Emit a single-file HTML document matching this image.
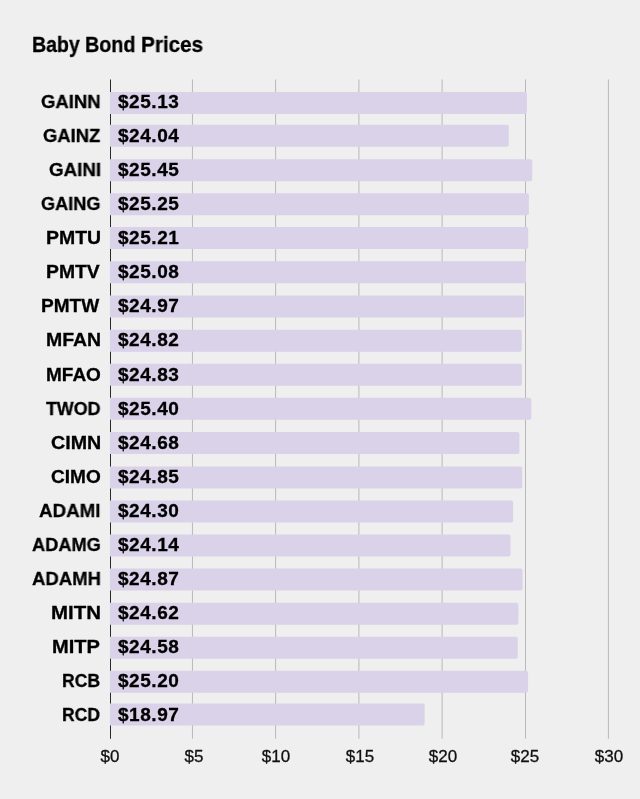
<!DOCTYPE html>
<html><head><meta charset="utf-8"><style>
html,body{margin:0;padding:0;}
body{width:640px;height:799px;overflow:hidden;background:#efefef;position:relative;font-family:"Liberation Sans",sans-serif;color:#000000;}
.t{position:absolute;white-space:nowrap;line-height:1;will-change:transform;}
.b{-webkit-text-stroke:0.3px #000;}
.title{font-weight:700;font-size:21.2px;top:34.05px;transform-origin:0 0;}
.lb{font-weight:700;font-size:19.0px;transform-origin:0 0;}
.vl{font-weight:700;font-size:19.0px;left:117.9px;letter-spacing:0.54px;}
.ax{font-weight:400;font-size:17px;width:60px;text-align:center;color:#111;-webkit-text-stroke:0.3px #111;}
svg{position:absolute;left:0;top:0;}
</style></head><body>
<svg width="640" height="799" viewBox="0 0 640 799">
<rect x="191.95" y="79.5" width="1" height="659.25" fill="#b8b8b8"/>
<rect x="275.10" y="79.5" width="1" height="659.25" fill="#b8b8b8"/>
<rect x="358.40" y="79.5" width="1" height="659.25" fill="#b8b8b8"/>
<rect x="441.60" y="79.5" width="1" height="659.25" fill="#b8b8b8"/>
<rect x="525.00" y="79.5" width="1" height="659.25" fill="#b8b8b8"/>
<rect x="607.90" y="79.5" width="1" height="659.25" fill="#b8b8b8"/>
<rect x="110" y="79.5" width="1" height="659.25" fill="#2a2a2a"/>
<path d="M109.9,91.90H524.90Q526.90,91.90 526.90,93.90V111.90Q526.90,113.90 524.90,113.90H109.9Z" fill="#d9d2e9"/>
<path d="M109.9,124.70H506.80Q508.80,124.70 508.80,126.70V144.70Q508.80,146.70 506.80,146.70H109.9Z" fill="#d9d2e9"/>
<path d="M109.9,159.20H530.21Q532.21,159.20 532.21,161.20V179.20Q532.21,181.20 530.21,181.20H109.9Z" fill="#d9d2e9"/>
<path d="M109.9,193.30H526.89Q528.89,193.30 528.89,195.30V213.30Q528.89,215.30 526.89,215.30H109.9Z" fill="#d9d2e9"/>
<path d="M109.9,227.10H526.23Q528.23,227.10 528.23,229.10V247.10Q528.23,249.10 526.23,249.10H109.9Z" fill="#d9d2e9"/>
<path d="M109.9,261.30H524.07Q526.07,261.30 526.07,263.30V281.30Q526.07,283.30 524.07,283.30H109.9Z" fill="#d9d2e9"/>
<path d="M109.9,295.50H522.24Q524.24,295.50 524.24,297.50V315.50Q524.24,317.50 522.24,317.50H109.9Z" fill="#d9d2e9"/>
<path d="M109.9,329.80H519.75Q521.75,329.80 521.75,331.80V349.80Q521.75,351.80 519.75,351.80H109.9Z" fill="#d9d2e9"/>
<path d="M109.9,363.70H519.92Q521.92,363.70 521.92,365.70V383.70Q521.92,385.70 519.92,385.70H109.9Z" fill="#d9d2e9"/>
<path d="M109.9,397.80H529.38Q531.38,397.80 531.38,399.80V417.80Q531.38,419.80 529.38,419.80H109.9Z" fill="#d9d2e9"/>
<path d="M109.9,432.10H517.43Q519.43,432.10 519.43,434.10V452.10Q519.43,454.10 517.43,454.10H109.9Z" fill="#d9d2e9"/>
<path d="M109.9,466.40H520.25Q522.25,466.40 522.25,468.40V486.40Q522.25,488.40 520.25,488.40H109.9Z" fill="#d9d2e9"/>
<path d="M109.9,500.40H511.12Q513.12,500.40 513.12,502.40V520.40Q513.12,522.40 511.12,522.40H109.9Z" fill="#d9d2e9"/>
<path d="M109.9,534.60H508.46Q510.46,534.60 510.46,536.60V554.60Q510.46,556.60 508.46,556.60H109.9Z" fill="#d9d2e9"/>
<path d="M109.9,568.60H520.58Q522.58,568.60 522.58,570.60V588.60Q522.58,590.60 520.58,590.60H109.9Z" fill="#d9d2e9"/>
<path d="M109.9,602.70H516.43Q518.43,602.70 518.43,604.70V622.70Q518.43,624.70 516.43,624.70H109.9Z" fill="#d9d2e9"/>
<path d="M109.9,636.70H515.77Q517.77,636.70 517.77,638.70V656.70Q517.77,658.70 515.77,658.70H109.9Z" fill="#d9d2e9"/>
<path d="M109.9,670.80H526.06Q528.06,670.80 528.06,672.80V690.80Q528.06,692.80 526.06,692.80H109.9Z" fill="#d9d2e9"/>
<path d="M109.9,703.60H422.61Q424.61,703.60 424.61,705.60V723.60Q424.61,725.60 422.61,725.60H109.9Z" fill="#d9d2e9"/>
</svg>
<div class="t title b" style="left:31.71px;transform:scaleX(0.9225)">Baby</div><div class="t title b" style="left:84.70px;transform:scaleX(0.9318)">Bond</div><div class="t title b" style="left:140.63px;transform:scaleX(0.9772)">Prices</div>

<div class="t lb b" style="left:41.24px;top:91.92px;transform:scaleX(0.9737)">GAINN</div>
<div class="t vl b" style="top:91.92px">$25.13</div>
<div class="t lb b" style="left:42.84px;top:125.92px;transform:scaleX(0.9691)">GAINZ</div>
<div class="t vl b" style="top:125.92px">$24.04</div>
<div class="t lb b" style="left:48.73px;top:159.92px;transform:scaleX(0.9875)">GAINI</div>
<div class="t vl b" style="top:159.92px">$25.45</div>
<div class="t lb b" style="left:41.25px;top:193.92px;transform:scaleX(0.9548)">GAING</div>
<div class="t vl b" style="top:193.92px">$25.25</div>
<div class="t lb b" style="left:45.70px;top:227.92px;transform:scaleX(1.0230)">PMTU</div>
<div class="t vl b" style="top:227.92px">$25.21</div>
<div class="t lb b" style="left:46.10px;top:261.92px;transform:scaleX(1.0172)">PMTV</div>
<div class="t vl b" style="top:261.92px">$25.08</div>
<div class="t lb b" style="left:41.47px;top:295.92px;transform:scaleX(1.0025)">PMTW</div>
<div class="t vl b" style="top:295.92px">$24.97</div>
<div class="t lb b" style="left:45.70px;top:329.92px;transform:scaleX(1.0249)">MFAN</div>
<div class="t vl b" style="top:329.92px">$24.82</div>
<div class="t lb b" style="left:45.73px;top:364.92px;transform:scaleX(0.9964)">MFAO</div>
<div class="t vl b" style="top:364.92px">$24.83</div>
<div class="t lb b" style="left:45.92px;top:398.92px;transform:scaleX(0.9386)">TWOD</div>
<div class="t vl b" style="top:398.92px">$25.40</div>
<div class="t lb b" style="left:50.69px;top:432.92px;transform:scaleX(1.0340)">CIMN</div>
<div class="t vl b" style="top:432.92px">$24.68</div>
<div class="t lb b" style="left:50.71px;top:466.92px;transform:scaleX(1.0023)">CIMO</div>
<div class="t vl b" style="top:466.92px">$24.85</div>
<div class="t lb b" style="left:39.42px;top:500.92px;transform:scaleX(0.9864)">ADAMI</div>
<div class="t vl b" style="top:500.92px">$24.30</div>
<div class="t lb b" style="left:31.93px;top:534.92px;transform:scaleX(0.9583)">ADAMG</div>
<div class="t vl b" style="top:534.92px">$24.14</div>
<div class="t lb b" style="left:31.92px;top:568.92px;transform:scaleX(0.9746)">ADAMH</div>
<div class="t vl b" style="top:568.92px">$24.87</div>
<div class="t lb b" style="left:51.03px;top:602.92px;transform:scaleX(1.0758)">MITN</div>
<div class="t vl b" style="top:602.92px">$24.62</div>
<div class="t lb b" style="left:52.25px;top:636.92px;transform:scaleX(1.0578)">MITP</div>
<div class="t vl b" style="top:636.92px">$24.58</div>
<div class="t lb b" style="left:62.42px;top:670.92px;transform:scaleX(0.9236)">RCB</div>
<div class="t vl b" style="top:670.92px">$25.20</div>
<div class="t lb b" style="left:62.43px;top:704.92px;transform:scaleX(0.9213)">RCD</div>
<div class="t vl b" style="top:704.92px">$18.97</div>
<div class="t ax" style="left:79.80px;top:748.11px">$0</div>
<div class="t ax" style="left:164.05px;top:748.11px">$5</div>
<div class="t ax" style="left:245.70px;top:748.11px">$10</div>
<div class="t ax" style="left:329.50px;top:748.11px">$15</div>
<div class="t ax" style="left:413.10px;top:748.11px">$20</div>
<div class="t ax" style="left:494.50px;top:748.11px">$25</div>
<div class="t ax" style="left:579.10px;top:748.11px">$30</div>
</body></html>
